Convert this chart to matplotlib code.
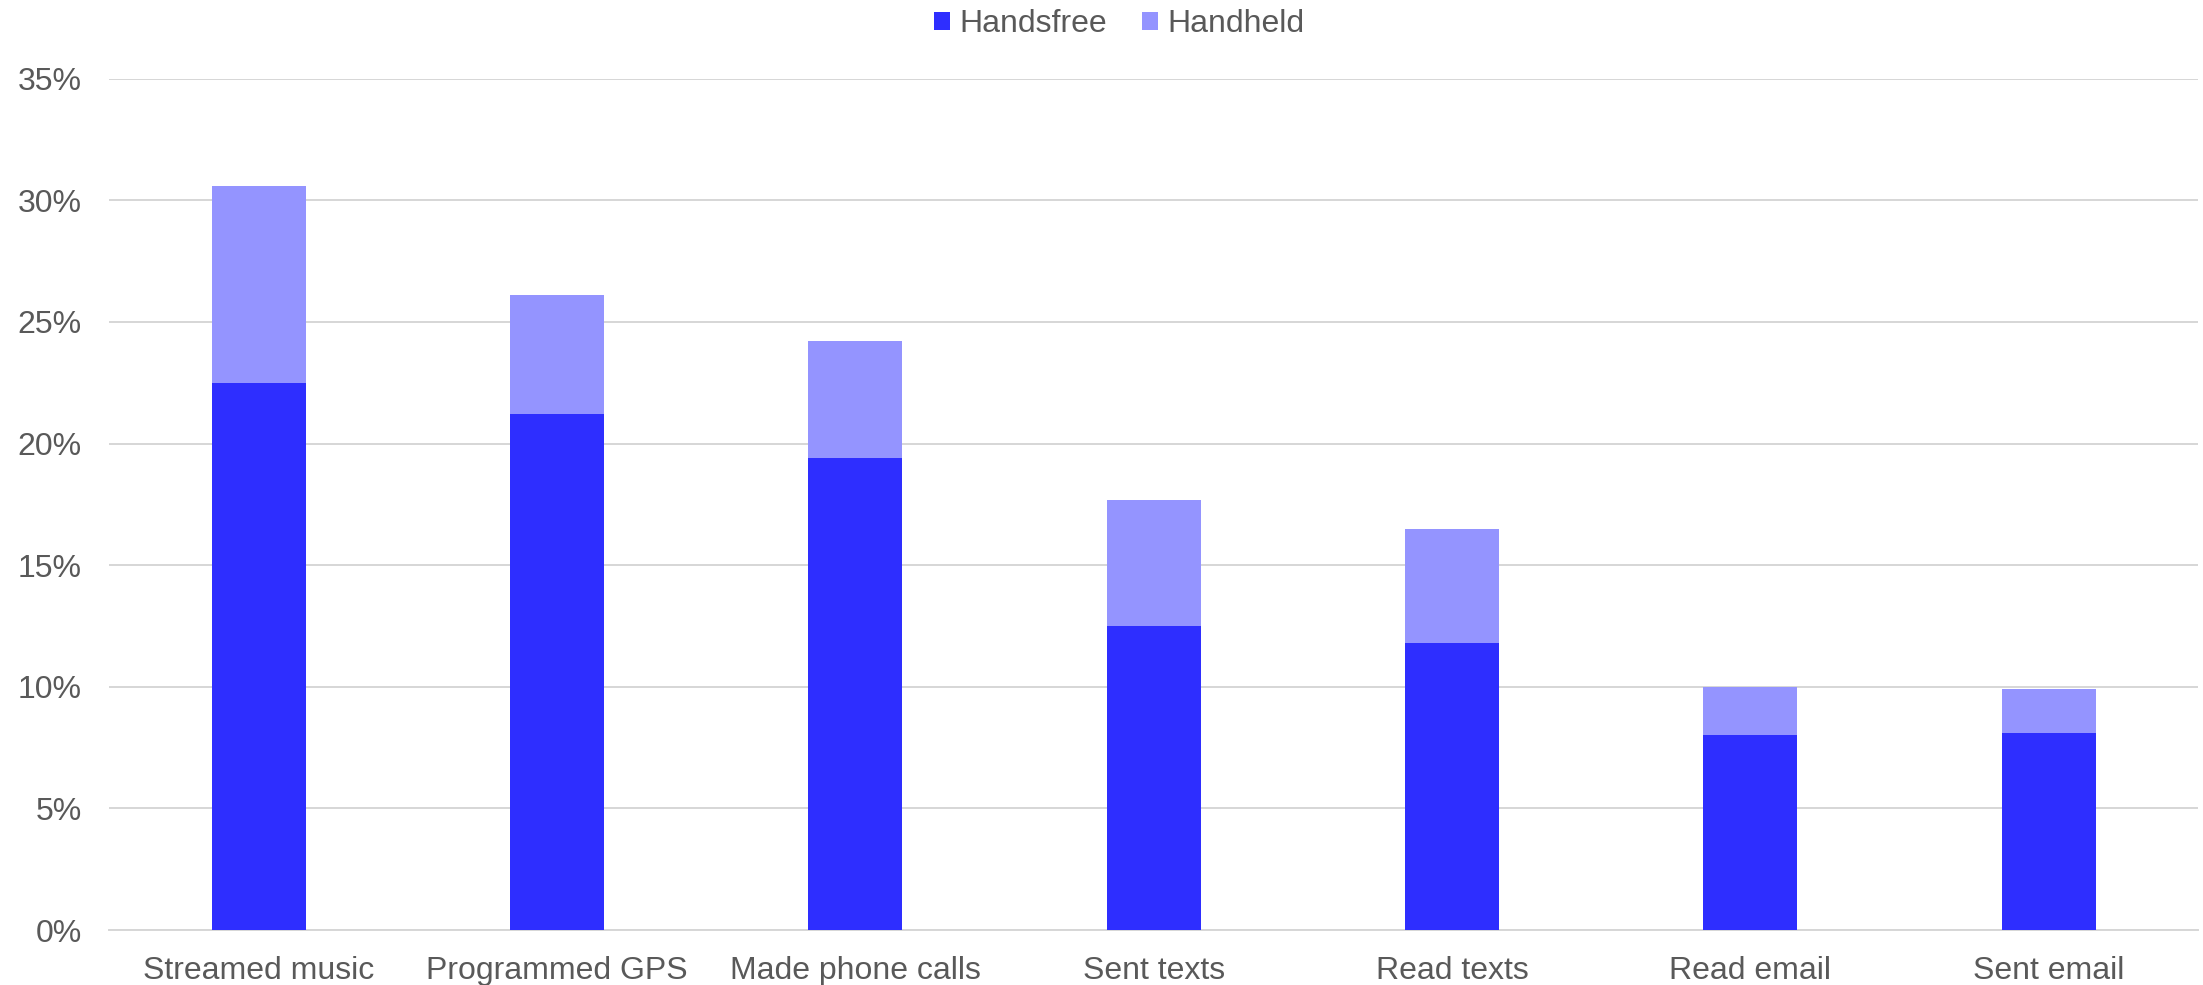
import matplotlib
matplotlib.use("Agg")
import matplotlib.pyplot as plt
from matplotlib.ticker import FuncFormatter, MultipleLocator
from matplotlib.patches import Patch

categories = ["Streamed music", "Programmed GPS", "Made phone calls",
              "Sent texts", "Read texts", "Read email", "Sent email"]
handsfree = [22.5, 21.2, 19.4, 12.5, 11.8, 8.0, 8.1]
handheld = [8.1, 4.9, 4.8, 5.2, 4.7, 2.0, 1.8]
series_names = ["Handsfree", "Handheld"]

c_free = "#2E2EFF"
c_held = "#9494FF"
grid_c = "#D6D6D6"
text_c = "#595959"

plt.rcParams["font.family"] = ["Liberation Sans", "DejaVu Sans"]

fig = plt.figure(figsize=(22.03, 9.85), dpi=100)
ax = fig.add_axes([0.0497, 0.0558, 0.948, 0.8643])

x = list(range(len(categories)))
width = 0.315
ax.bar(x, handsfree, width=width, color=c_free, zorder=3)
ax.bar(x, handheld, width=width, bottom=handsfree, color=c_held, zorder=3)

ax.set_xlim(-0.5, len(categories) - 0.5)
ax.set_ylim(0, 35)
ax.yaxis.set_major_locator(MultipleLocator(5))
ax.yaxis.set_major_formatter(FuncFormatter(lambda v, p: f"{v:.0f}%"))
ax.grid(axis="y", color=grid_c, linewidth=1.4, zorder=0)
ax.set_axisbelow(True)

for s in ["top", "right", "left"]:
    ax.spines[s].set_visible(False)
ax.spines["bottom"].set_color(grid_c)
ax.spines["bottom"].set_linewidth(1.4)

ax.set_xticks(x)
ax.set_xticklabels(categories)
ax.tick_params(axis="x", length=0, pad=19, labelsize=23, labelcolor=text_c)
ax.tick_params(axis="y", length=0, pad=20, labelsize=23, labelcolor=text_c)

handles = [Patch(facecolor=c_free), Patch(facecolor=c_held)]
fig.legend(handles, series_names, loc="center", bbox_to_anchor=(0.508, 1 - 24 / 985),
           ncol=2, frameon=False, fontsize=23, labelcolor=text_c,
           handlelength=0.5, handleheight=0.5, handletextpad=0.3,
           columnspacing=1.1, borderaxespad=0, borderpad=0)

fig.savefig("out.png", dpi=100, facecolor="white")
